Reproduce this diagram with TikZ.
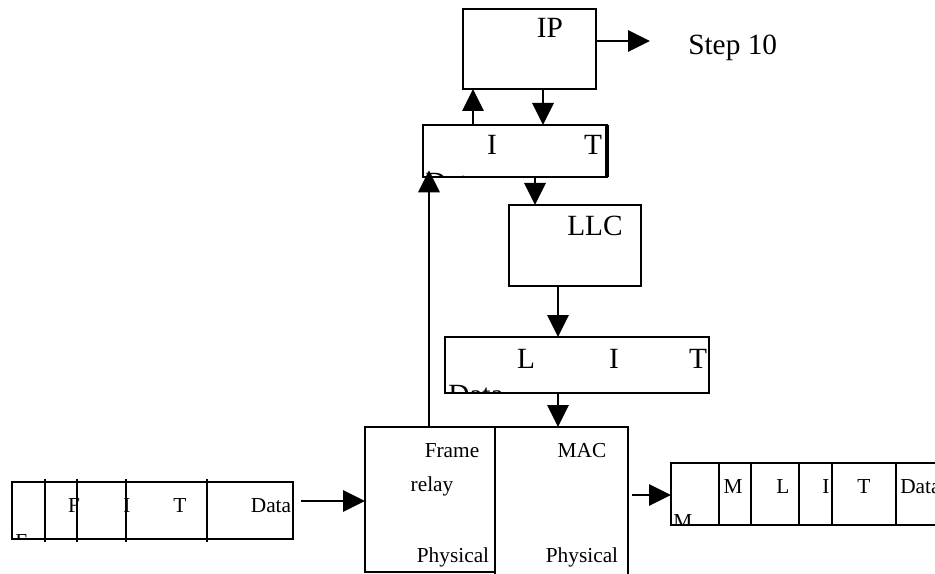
\documentclass[tikz,border=0pt]{standalone}
\usepackage{fontspec}
\setmainfont{Liberation Serif}
\usetikzlibrary{arrows.meta,fit}
\tikzset{
  box/.style={draw,line width=1.7pt,inner sep=0pt,outer sep=0pt},
  arr/.style={line width=1.7pt,-{Triangle[length=16.5pt,width=16pt]}},
  big/.style={inner sep=0pt,anchor=base,font=\fontsize{22}{26}\selectfont},
  small/.style={inner sep=0pt,anchor=base,font=\fontsize{16}{19}\selectfont},
  divider/.style={line width=1.7pt}
}
\begin{document}
\begin{tikzpicture}[x=0.75pt,y=-0.75pt]
\useasboundingbox (0,0) rectangle (935,574);
\clip (0,0) rectangle (935,574);
\fill[white] (0,0) rectangle (935,574);

% boxes
\node[box,fit={(463,9)(596,89)}] (ip) {};
\node[box,fit={(423,125)(607,177)}] (it) {};
\draw[line width=2.8pt] (it.north east) -- (it.south east);
\node[box,fit={(509,205)(641,286)}] (llc) {};
\node[box,fit={(445,337)(709,393)}] (lit) {};
\node[box,fit={(365,427)(495,572)}] (fr) {};
\node[box,fit={(495,427)(628,590)}] (mac) {};
\node[box,fit={(12,482)(293,539)}] (lf) {};
\node[box,fit={(671,463)(960,525)}] (rf) {};

% dividers left frame
\foreach \dx in {45,77,126,207} \draw[divider] (\dx,479) -- (\dx,542);
% dividers right frame
\foreach \dx in {719,751,799,832,896} \draw[divider] (\dx,463) -- (\dx,525);

% texts
\node[big] (tip) at (550,38) {IP};
\node[big,anchor=base west] (tstep) at (688,55) {Step 10};
\node[big] (ti1) at (492,155) {I};
\node[big] (tt1) at (593,155) {T};
\begin{scope}
  \clip (it.north west) rectangle (it.south east);
  \node[big,anchor=base west] (td1) at (425,193) {Data};
\end{scope}
\node[big] (tllc) at (595,235) {LLC};
\node[big] (tl2) at (526,368) {L};
\node[big] (ti2) at (614,368) {I};
\node[big] (tt2) at (698,368) {T};
\begin{scope}
  \clip (lit.north west) rectangle (lit.south east);
  \node[big,anchor=base west] (td2) at (448,404) {Data};
\end{scope}
\node[small] (tframe) at (452,457) {Frame};
\node[small] (trelay) at (432,491) {relay};
\node[small] (tphys1) at (453,562) {Physical};
\node[small] (tmac) at (582,457) {MAC};
\node[small] (tphys2) at (582,562) {Physical};

\node[small] (lfF) at (74,512) {F};
\node[small] (lfI) at (127,512) {I};
\node[small] (lfT) at (180,512) {T};
\node[small] (lfD) at (271,512) {Data};
\begin{scope}
  \clip (lf.north west) rectangle (lf.south east);
  \node[small,anchor=base west] (lfE) at (15,548) {E};
\end{scope}

\node[small] (rfM) at (733,493) {M};
\node[small] (rfL) at (783,493) {L};
\node[small] (rfI) at (826,493) {I};
\node[small] (rfT) at (864,493) {T};
\node[small,anchor=base west] (rfD) at (900,493) {Data};
\begin{scope}
  \clip (rf.north west) rectangle (rf.south east);
  \node[small,anchor=base west] (rfM2) at (673,528) {M};
\end{scope}

% connector x/y guides
\coordinate (stepend) at (650,41);
\coordinate (xa) at (473,0);
\coordinate (xb) at (543,0);
\coordinate (xc) at (535,0);
\coordinate (xd) at (558,0);
\coordinate (xe) at (429,0);
\coordinate (ya) at (0,501);
\coordinate (yb) at (0,495);

% connectors
\draw[arr] (ip.east |- stepend) -- (stepend);
\draw[arr] (it.north -| xa) -- (ip.south -| xa);
\draw[arr] (ip.south -| xb) -- (it.north -| xb);
\draw[arr] (it.south -| xc) -- (llc.north -| xc);
\draw[arr] (llc.south -| xd) -- (lit.north -| xd);
\draw[arr] (lit.south -| xd) -- (mac.north -| xd);
\draw[arr,shorten >=-5pt] (fr.north -| xe) -- (it.south -| xe);
\draw[arr,shorten <=6pt] (lf.east |- ya) -- (fr.west |- ya);
\draw[arr,shorten <=3pt] (mac.east |- yb) -- (rf.west |- yb);
\end{tikzpicture}
\end{document}
